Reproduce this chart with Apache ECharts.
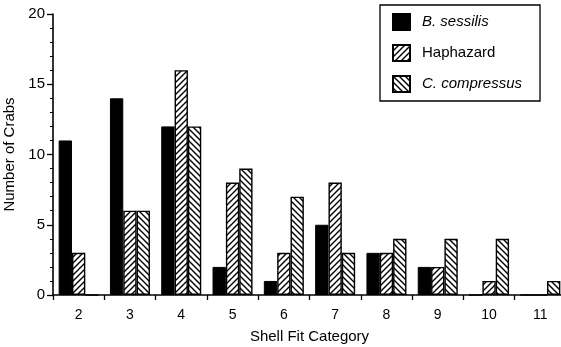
<!DOCTYPE html>
<html><head><meta charset="utf-8">
<script src="https://cdn.jsdelivr.net/npm/echarts@6/dist/echarts.min.js"></script>
<style>html,body{margin:0;padding:0;background:#fff}#c{width:561px;height:347px}</style>
</head><body><div id="c"></div>
<script>
const categories = ['2','3','4','5','6','7','8','9','10','11'];
const bSessilis = [11,14,12,2,1,5,3,2,0,0];
const haphazard = [3,6,16,8,3,8,3,2,1,0];
const cCompressus = [0,6,12,9,7,3,4,4,4,1];
const yTicks = [0,5,10,15,20];

function hatch(dir){
  const s = 6;
  const c = document.createElement('canvas');
  c.width = s; c.height = s;
  const g = c.getContext('2d');
  g.fillStyle = '#fff'; g.fillRect(0,0,s,s);
  g.strokeStyle = '#000'; g.lineWidth = 1.4;
  g.beginPath();
  if (dir === '/') {
    g.moveTo(0,s); g.lineTo(s,0);
    g.moveTo(-1,1); g.lineTo(1,-1);
    g.moveTo(s-1,s+1); g.lineTo(s+1,s-1);
  } else {
    g.moveTo(0,0); g.lineTo(s,s);
    g.moveTo(-1,s-1); g.lineTo(1,s+1);
    g.moveTo(s-1,-1); g.lineTo(s+1,1);
  }
  g.stroke();
  return {image: c, repeat: 'repeat'};
}

const chart = echarts.init(document.getElementById('c'), null, {renderer:'canvas'});
const font = 'Liberation Sans, Arial, sans-serif';
chart.setOption({
  animation: false,
  textStyle: {fontFamily: font, color: '#000'},
  grid: {left: 53, top: 14, bottom: 52, right: -5, outerBoundsMode: 'none', containLabel: false},
  legend: {
    orient: 'vertical', left: 380, top: 5,
    padding: [8, 18, 8, 12], itemGap: 13,
    itemWidth: 17, itemHeight: 16,
    borderColor: '#000', borderWidth: 1.3,
    icon: 'rect',
    textStyle: {fontSize: 15, color: '#000', fontFamily: font, padding: [0,0,0,7],
      rich: {i: {fontStyle: 'italic', fontSize: 15, fontFamily: font}}},
    formatter: n => n === 'Haphazard' ? n : '{i|' + n + '}',
    data: ['B. sessilis','Haphazard','C. compressus']
  },
  xAxis: {
    type: 'category', data: categories, boundaryGap: true,
    name: 'Shell Fit Category', nameLocation: 'middle', nameGap: 34,
    nameTextStyle: {fontSize: 15, color: '#000'},
    axisLine: {lineStyle: {color: '#000', width: 1.6}},
    axisTick: {show: true, length: 5, lineStyle: {color: '#000', width: 1.3}},
    axisLabel: {fontSize: 14, color: '#000', margin: 13}
  },
  yAxis: {
    type: 'value', min: 0, max: 20, interval: 5,
    name: 'Number of Crabs', nameLocation: 'middle', nameGap: 34,
    nameTextStyle: {fontSize: 15, color: '#000'},
    axisLine: {show: true, lineStyle: {color: '#000', width: 1.6}},
    axisTick: {show: true, length: 6, lineStyle: {color: '#000', width: 1.3}},
    minorTick: {show: true, splitNumber: 5, length: 3, lineStyle: {color: '#000'}},
    splitLine: {show: false},
    axisLabel: {fontSize: 15, color: '#000', margin: 8,
      formatter: v => yTicks.includes(v) ? String(v) : ''}
  },
  series: [
    {name: 'B. sessilis', type: 'bar', data: bSessilis, barGap: '0%', barCategoryGap: '22%',
      itemStyle: {color: '#000', borderColor: '#000', borderWidth: 1}},
    {name: 'Haphazard', type: 'bar', data: haphazard,
      itemStyle: {color: hatch('/'), borderColor: '#000', borderWidth: 1.4}},
    {name: 'C. compressus', type: 'bar', data: cCompressus,
      itemStyle: {color: hatch('\\'), borderColor: '#000', borderWidth: 1.4}}
  ]
});
</script></body></html>
